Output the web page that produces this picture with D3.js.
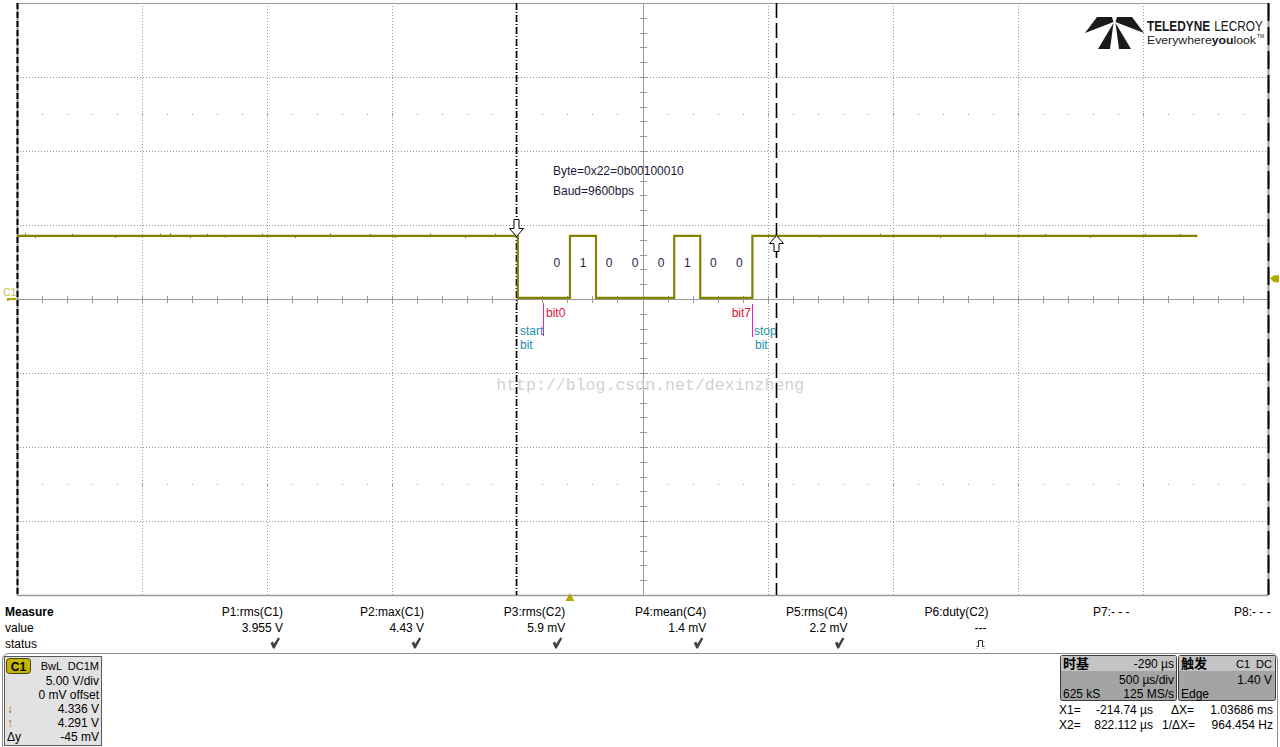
<!DOCTYPE html>
<html><head><meta charset="utf-8">
<script src="https://cdn.jsdelivr.net/npm/d3@7"></script>
<style>
html,body{margin:0;padding:0;background:#fff;}
svg{display:block;font-family:"Liberation Sans",Arial,sans-serif;}
</style></head><body>
<svg id="c" width="1280" height="747"></svg>
<script>
// ---------------- data ----------------
const timePerDiv = 500;          // µs/div
const voltsPerDiv = 5;           // V/div
const screenCenterTime = 290;    // µs (delay -290 µs)
const hDivs = 10, vDivs = 8;

// C1 trace: step levels (V) starting at each time (µs)
const traceTimes  = [-2210, -208.3, 0, 104.2, 416.7, 520.8, 729.2, 2508];
const traceVolts  = [4.26, 0.08, 4.26, 0.08, 4.26, 0.08, 4.26, 4.26];
// small glitches seen on the idle level
const glitchTimes = [-2180,-2140,-1990,-1820,-1640,-1600,-1520,-1450,-1380,-1230,-1100,-960,-800,-700,-560,-420,-300,820,1000,1240,1480,1660,1900,2080,2300,2440];
const glitchVolts = [4.45,4.10,4.40,4.12,4.42,4.45,4.10,4.40,4.14,4.42,4.12,4.44,4.40,4.12,4.43,4.10,4.42,4.40,4.14,4.42,4.10,4.44,4.40,4.12,4.42,4.40];

const bitTime = 104.17;          // µs @ 9600 bps
const bitValues = [0,1,0,0,0,1,0,0];
const startBitTime = -208.3;
const cursorX1 = -214.74, cursorX2 = 822.112;
const triggerLevel = 1.40;

const annotations = ["Byte=0x22=0b00100010", "Baud=9600bps"];

const measureNames  = ["P1:rms(C1)","P2:max(C1)","P3:rms(C2)","P4:mean(C4)","P5:rms(C4)","P6:duty(C2)","P7:- - -","P8:- - -"];
const measureValues = ["3.955 V","4.43 V","5.9 mV","1.4 mV","2.2 mV","---","",""];
const measureStatus = ["ok","ok","ok","ok","ok","pulse","",""];

const c1Lines  = ["5.00 V/div","0 mV offset","4.336 V","4.291 V","-45 mV"];
const c1Labels = ["","","↓","↑","Δy"];

// ---------------- scales ----------------
const svg = d3.select("#c");
const X0 = 17, X1p = 1268, Y0 = 3, Y1p = 595;
const tMin = screenCenterTime - timePerDiv*hDivs/2, tMax = screenCenterTime + timePerDiv*hDivs/2;
const x = d3.scaleLinear().domain([tMin, tMax]).range([X0, X1p]);
const y = d3.scaleLinear().domain([-voltsPerDiv*vDivs/2, voltsPerDiv*vDivs/2]).range([Y1p, Y0]);
const GRID = "#9a9a9a";

// ---------------- grid ----------------
const g = svg.append("g");
const vLines = d3.range(1, hDivs).map(k => tMin + k*timePerDiv);
const hLines = d3.range(1, vDivs).map(k => -voltsPerDiv*vDivs/2 + k*voltsPerDiv);
g.selectAll(".vl").data(vLines).join("line")
  .attr("x1", d => Math.round(x(d))+0.5).attr("x2", d => Math.round(x(d))+0.5)
  .attr("y1", Y0).attr("y2", Y1p)
  .attr("stroke", GRID).attr("stroke-width", 1)
  .attr("stroke-dasharray", d => Math.abs(d-screenCenterTime) < 1 ? null : "1,2");
g.selectAll(".hl").data(hLines).join("line")
  .attr("y1", d => Math.round(y(d))+0.5).attr("y2", d => Math.round(y(d))+0.5)
  .attr("x1", X0).attr("x2", X1p)
  .attr("stroke", GRID).attr("stroke-width", 1)
  .attr("stroke-dasharray", d => d === 0 ? null : "1,2");
// center ticks
const minorT = d3.range(tMin, tMax+1, timePerDiv/5);
g.selectAll(".mt").data(minorT).join("line")
  .attr("x1", d => Math.round(x(d))+0.5).attr("x2", d => Math.round(x(d))+0.5)
  .attr("y1", Math.round(y(0))-3).attr("y2", Math.round(y(0))+4)
  .attr("stroke", GRID);
const minorV = d3.range(-voltsPerDiv*vDivs/2, voltsPerDiv*vDivs/2+0.01, voltsPerDiv/5);
g.selectAll(".mv").data(minorV).join("line")
  .attr("y1", d => Math.round(y(d))+0.5).attr("y2", d => Math.round(y(d))+0.5)
  .attr("x1", Math.round(x(screenCenterTime))-3).attr("x2", Math.round(x(screenCenterTime))+4)
  .attr("stroke", GRID);
// dotted rows at ±2.5 div
[2.5, -2.5].forEach(dv => {
  const yy = Math.round(y(dv*voltsPerDiv));
  g.selectAll(null).data(minorT.slice(1, -1)).join("rect")
    .attr("x", d => Math.round(x(d))).attr("y", yy)
    .attr("width", 1).attr("height", (d,i) => (i+1)%5===0 ? 3 : 1)
    .attr("transform", (d,i) => (i+1)%5===0 ? "translate(0,-1)" : null)
    .attr("fill", GRID);
});
// border
g.append("line").attr("x1", X0).attr("x2", X1p).attr("y1", Y0+0.5).attr("y2", Y0+0.5).attr("stroke", GRID);
g.append("line").attr("x1", X0).attr("x2", X1p).attr("y1", Y1p+0.5).attr("y2", Y1p+0.5).attr("stroke", GRID).attr("stroke-width", 1.5);
[[X0, "6,3"], [X1p, "18,6"]].forEach(([xx, da]) => {
  g.append("line").attr("x1", xx+0.5).attr("x2", xx+0.5).attr("y1", Y0).attr("y2", Y1p).attr("stroke", GRID).attr("stroke-width", 2);
  g.append("line").attr("x1", xx+0.5).attr("x2", xx+0.5).attr("y1", Y0).attr("y2", Y1p).attr("stroke", "#000").attr("stroke-width", 2).attr("stroke-dasharray", da);
});

// ---------------- watermark ----------------
svg.append("text").attr("x", x(cursorX1) - 20).attr("y", 390)
  .attr("font-family", "'Liberation Mono','DejaVu Sans Mono',monospace").attr("font-size", 16.5)
  .attr("textLength", 308).attr("lengthAdjust", "spacingAndGlyphs")
  .attr("fill", "#d2d2d2").text("http://blog.csdn.net/dexinzheng");

// ---------------- cursors ----------------
svg.append("line").attr("x1", Math.round(x(cursorX1))+0.5).attr("x2", Math.round(x(cursorX1))+0.5)
  .attr("y1", Y0).attr("y2", Y1p).attr("stroke", "#000").attr("stroke-width", 1.6).attr("stroke-dasharray", "7,2,1,2");
svg.append("line").attr("x1", Math.round(x(cursorX2))+0.5).attr("x2", Math.round(x(cursorX2))+0.5)
  .attr("y1", Y0).attr("y2", Y1p).attr("stroke", "#000").attr("stroke-width", 1.6).attr("stroke-dasharray", "15,5");

// ---------------- trace ----------------
const TRACE = "#858200";
const pts = traceTimes.map((t,i) => [t, traceVolts[i]]);
const line = d3.line().x(d => x(d[0])).y(d => y(d[1])).curve(d3.curveStepAfter);
svg.selectAll(".gl").data(glitchTimes).join("line")
  .attr("x1", d => Math.round(x(d))+0.5).attr("x2", d => Math.round(x(d))+0.5)
  .attr("y1", y(traceVolts[0])).attr("y2", (d,i) => y(glitchVolts[i]))
  .attr("stroke", TRACE).attr("stroke-width", 1);
svg.append("path").attr("d", line(pts)).attr("fill", "none").attr("stroke", TRACE).attr("stroke-width", 2.2);

// bit labels
svg.selectAll(".bit").data(bitValues).join("text")
  .attr("x", (d,i) => x(startBitTime + bitTime*(i+1.5)))
  .attr("y", 267).attr("text-anchor", "middle").attr("font-size", 12)
  .attr("fill", "#1e1e50").text(d => d);

// annotations
svg.selectAll(".ann").data(annotations).join("text")
  .attr("x", 553).attr("y", (d,i) => 175 + i*20).attr("font-size", 12).attr("fill", "#1a1a38").text(d => d);

// bit0 / bit7 markers
const bit0x = Math.round(x(startBitTime + bitTime)) - 0.5;
const bit7x = Math.round(x(startBitTime + bitTime*9)) + 0.5;
svg.append("line").attr("x1", bit0x).attr("x2", bit0x).attr("y1", 303).attr("y2", 336).attr("stroke", "#e020d8");
svg.append("line").attr("x1", bit7x).attr("x2", bit7x).attr("y1", 304).attr("y2", 337).attr("stroke", "#e020d8");
svg.append("text").attr("x", bit0x+2.5).attr("y", 317).attr("font-size", 12).attr("fill", "#e0103a").text("bit0");
svg.append("text").attr("x", bit7x-1.5).attr("y", 317).attr("text-anchor", "end").attr("font-size", 12).attr("fill", "#e0103a").text("bit7");
const TEAL = "#1f90aa";
svg.append("text").attr("x", 520).attr("y", 335).attr("font-size", 12).attr("fill", TEAL).text("start");
svg.append("text").attr("x", 520).attr("y", 349).attr("font-size", 12).attr("fill", TEAL).text("bit");
svg.append("text").attr("x", 754).attr("y", 335).attr("font-size", 12).attr("fill", TEAL).text("stop");
svg.append("text").attr("x", 755).attr("y", 349).attr("font-size", 12).attr("fill", TEAL).text("bit");

// cursor arrows
const ax1 = Math.round(x(cursorX1)) + 0.5, ax2 = Math.round(x(cursorX2)) + 0.5;
svg.append("path").attr("d", `M${ax1-2.5},219.5 H${ax1+2.5} V228.5 H${ax1+7} L${ax1},236.5 L${ax1-7},228.5 H${ax1-2.5} Z`)
  .attr("fill", "#fff").attr("stroke", "#000");
svg.append("path").attr("d", `M${ax2},235.5 L${ax2+7},243.5 H${ax2+2.5} V251.5 H${ax2-2.5} V243.5 H${ax2-7} Z`)
  .attr("fill", "#fff").attr("stroke", "#000");

// ---------------- markers ----------------
const MK = "#b3a800";
svg.append("text").attr("x", 3).attr("y", 296).attr("font-size", 10.5).attr("fill", "#c8c050").text("C1");
svg.append("path").attr("d", `M7,${y(0)+2} V${y(0)-1} H16 V${y(0)+1} H9 V${y(0)+2} Z`).attr("fill", MK);
const ty = y(triggerLevel);
svg.append("path").attr("d", `M1270,${ty} L1274,${ty-3} H1279 V${ty+4} H1274 Z`).attr("fill", MK);
svg.append("path").attr("d", `M${x(0)},593 L${x(0)+4.5},601 H${x(0)-4.5} Z`).attr("fill", MK);

// ---------------- logo ----------------
const logo = svg.append("g");
logo.append("rect").attr("x", 1080).attr("y", 8).attr("width", 62).attr("height", 46).attr("fill", "#fff");
[[[1085,33],[1097,17],[1112,17],[1113.5,22]],
 [[1144,33],[1132,17],[1117,17],[1115.5,22]],
 [[1113.5,23],[1098,49],[1110,49]],
 [[1115.5,23],[1131,49],[1119,49]]].forEach(p => logo.append("polygon").attr("points", p.join(" ")).attr("fill", "#1a1a1a"));
const tg = logo.append("g");
const t1 = tg.append("text").attr("x", 0).attr("y", 0).attr("font-size", 14.5).attr("font-weight", "bold").attr("fill", "#1a1a1a").text("TELEDYNE");
const w1 = t1.node().getComputedTextLength();
const t2 = tg.append("text").attr("x", w1 + 5).attr("y", 0).attr("font-size", 14.5).attr("fill", "#1a1a1a").text("LECROY");
const w2 = t2.node().getComputedTextLength();
tg.attr("transform", `translate(1147,30.5) scale(${116/(w1+5+w2)},1)`);
const ew = logo.append("text").attr("x", 1147).attr("y", 44).attr("font-size", 11).attr("fill", "#1a1a1a")
  .attr("textLength", 109).attr("lengthAdjust", "spacingAndGlyphs");
ew.append("tspan").text("Everywhere");
ew.append("tspan").attr("font-weight", "bold").text("you");
ew.append("tspan").text("look");
logo.append("text").attr("x", 1257).attr("y", 38).attr("font-size", 5).attr("fill", "#1a1a1a").text("TM");

// ---------------- measure table ----------------
const mt = svg.append("g").attr("font-size", 12).attr("fill", "#000");
mt.append("text").attr("x", 5).attr("y", 616).attr("font-weight", "bold").text("Measure");
mt.append("text").attr("x", 5).attr("y", 632).text("value");
mt.append("text").attr("x", 5).attr("y", 648).text("status");
const colX = i => 283 + i*141.1;
mt.selectAll(".mn").data(measureNames).join("text").attr("x", (d,i) => colX(i)).attr("y", 616).attr("text-anchor", "end").text(d => d);
mt.selectAll(".mvv").data(measureValues).join("text").attr("x", (d,i) => colX(i) - (d === "---" ? 2 : 0)).attr("y", 632).attr("text-anchor", "end").text(d => d);
measureStatus.forEach((s,i) => {
  const cx = colX(i) - 8;
  if (s === "ok") {
    mt.append("path").attr("d", `M${cx-4.5},${643} L${cx-2},${641.5} L${cx-1},${644} L${cx+3},${637.5} L${cx+5},${638.5} L${cx-0.5},${648.5} L${cx-2},${648.5} Z`).attr("fill", "#404040");
  } else if (s === "pulse") {
    mt.append("path").attr("d", `M${cx-4},646.5 H${cx-2} V640.5 H${cx+2} V646.5 H${cx+4}`).attr("fill", "none").attr("stroke", "#333").attr("stroke-width", 1);
    mt.append("path").attr("d", `M${cx-4},642 h1 M${cx+3},642 h1 M${cx-4},648.5 h1 M${cx+3},648.5 h1`).attr("stroke", "#888").attr("stroke-width", 1);
  }
});

// ---------------- bottom panel ----------------
svg.append("path").attr("d", "M2.5,747 V660 Q2.5,653.5 9,653.5 H1271 Q1277.5,653.5 1277.5,660 V747")
  .attr("fill", "none").attr("stroke", "#8c8c8c");

// C1 box
const cb = svg.append("g").attr("font-size", 12);
cb.append("rect").attr("x", 4.5).attr("y", 656.5).attr("width", 97).attr("height", 89).attr("fill", "#e2e2e2").attr("stroke", "#5a5a5a");
cb.append("rect").attr("x", 6.5).attr("y", 658.5).attr("width", 24).attr("height", 15).attr("rx", 3).attr("fill", "#c2b600").attr("stroke", "#4a4400");
cb.append("text").attr("x", 18.5).attr("y", 670.5).attr("text-anchor", "middle").attr("font-weight", "bold").attr("font-size", 12).text("C1");
cb.append("text").attr("x", 99).attr("y", 670).attr("text-anchor", "end").attr("font-size", 11).attr("xml:space", "preserve").text("BwL  DC1M");
cb.selectAll(".cl").data(c1Lines).join("text").attr("x", 99).attr("y", (d,i) => 685 + i*14).attr("text-anchor", "end").text(d => d);
cb.selectAll(".cll").data(c1Labels).join("text").attr("x", 7).attr("y", (d,i) => 685 + i*14)
  .attr("fill", d => d === "Δy" ? "#000" : "#c05000").text(d => d);

// Timebase box
const tb = svg.append("g").attr("font-size", 12);
tb.append("rect").attr("x", 1060.5).attr("y", 655.5).attr("width", 116).attr("height", 45).attr("rx", 2).attr("fill", "#a4a4a4").attr("stroke", "#3c3c3c");
tb.append("rect").attr("x", 1061).attr("y", 656).attr("width", 115).attr("height", 15).attr("fill", "#c4c4c4");
tb.append("text").attr("x", 1063).attr("y", 668).attr("font-family", "'Noto Sans CJK SC',sans-serif").attr("font-weight", "bold").attr("font-size", 13).text("时基");
tb.append("text").attr("x", 1174).attr("y", 668).attr("text-anchor", "end").text("-290 µs");
tb.append("text").attr("x", 1174).attr("y", 684).attr("text-anchor", "end").text("500 µs/div");
tb.append("text").attr("x", 1063).attr("y", 698).text("625 kS");
tb.append("text").attr("x", 1174).attr("y", 698).attr("text-anchor", "end").text("125 MS/s");
// Trigger box
tb.append("rect").attr("x", 1178.5).attr("y", 655.5).attr("width", 97).attr("height", 45).attr("rx", 2).attr("fill", "#a4a4a4").attr("stroke", "#3c3c3c");
tb.append("rect").attr("x", 1179).attr("y", 656).attr("width", 96).attr("height", 15).attr("fill", "#c4c4c4");
tb.append("text").attr("x", 1181).attr("y", 668).attr("font-family", "'Noto Sans CJK SC',sans-serif").attr("font-weight", "bold").attr("font-size", 13).text("触发");
tb.append("text").attr("x", 1272).attr("y", 668).attr("text-anchor", "end").attr("font-size", 11).attr("xml:space", "preserve").text("C1  DC");
tb.append("text").attr("x", 1272).attr("y", 684).attr("text-anchor", "end").text("1.40 V");
tb.append("text").attr("x", 1181).attr("y", 698).text("Edge");

// cursor readouts
const cr = svg.append("g").attr("font-size", 12);
cr.append("text").attr("x", 1059).attr("y", 714).text("X1=");
cr.append("text").attr("x", 1153).attr("y", 714).attr("text-anchor", "end").text("-214.74 µs");
cr.append("text").attr("x", 1171).attr("y", 714).text("ΔX=");
cr.append("text").attr("x", 1273).attr("y", 714).attr("text-anchor", "end").text("1.03686 ms");
cr.append("text").attr("x", 1059).attr("y", 729).text("X2=");
cr.append("text").attr("x", 1153).attr("y", 729).attr("text-anchor", "end").text("822.112 µs");
cr.append("text").attr("x", 1162).attr("y", 729).text("1/ΔX=");
cr.append("text").attr("x", 1273).attr("y", 729).attr("text-anchor", "end").text("964.454 Hz");
</script>
</body></html>
